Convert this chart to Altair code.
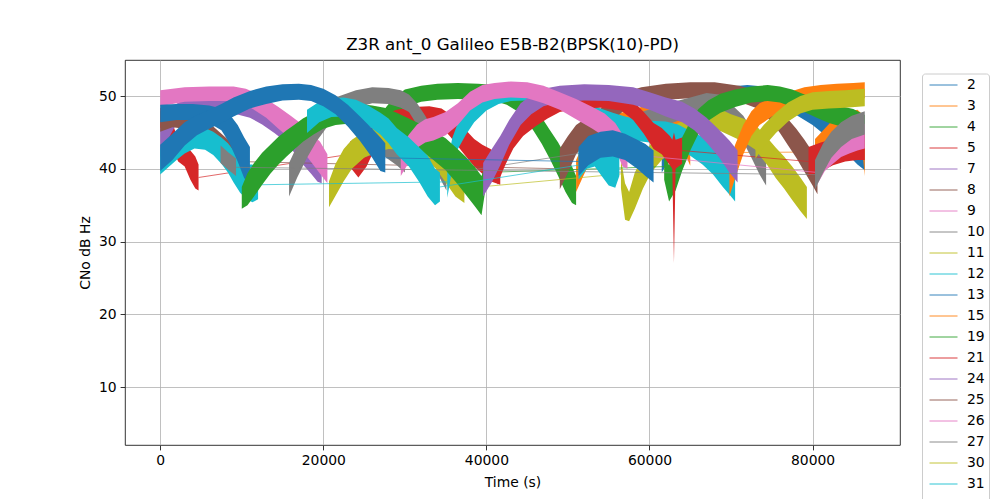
import altair as alt
import pandas as pd

SATS = ["2", "3", "4", "5", "7", "8", "9", "10", "11", "12", "13", "15", "19",
        "21", "24", "25", "26", "27", "30", "31", "33", "34", "36"]
TAB10 = ["#1f77b4", "#ff7f0e", "#2ca02c", "#d62728", "#9467bd",
         "#8c564b", "#e377c2", "#7f7f7f", "#bcbd22", "#17becf"]
X_TICKS = [0, 20000, 40000, 60000, 80000]
Y_TICKS = [10, 20, 30, 40, 50]
TITLE = "Z3R ant_0 Galileo E5B-B2(BPSK(10)-PD)"

# each pass: (time s, centre CNo dB-Hz, half width of the noise band dB)
S2_A = [(61500, 41.5, 2.0), (63000, 44.0, 1.8), (64500, 46.5, 1.5), (66000, 48.3, 1.3), (68000, 49.6, 1.2),
        (70000, 50.2, 1.1), (72000, 50.4, 1.1), (74000, 50.2, 1.1), (76000, 49.6, 1.2), (78000, 48.7, 1.3),
        (80000, 47.5, 1.5), (82000, 46.0, 1.8), (84000, 44.3, 2.0), (85500, 42.8, 2.2), (86400, 42.0, 2.2)]
S3_A = [(51000, 39.0, 2.2), (51800, 41.0, 2.2), (52700, 43.0, 2.0), (53700, 44.8, 1.7), (55000, 45.8, 1.5),
        (56500, 46.3, 1.4), (58000, 46.7, 1.4), (59500, 47.3, 1.4), (60800, 47.8, 1.4), (62000, 47.5, 1.4),
        (63000, 46.5, 1.5), (63800, 45.0, 1.7), (64600, 43.3, 1.9), (65000, 42.2, 1.8)]
S3_B = [(80300, 42.3, 1.8), (81300, 43.5, 1.8), (82300, 44.8, 1.7), (83300, 45.7, 1.6), (84500, 46.3, 1.6),
        (85500, 46.6, 1.5), (86100, 45.0, 2.5), (86400, 41.0, 2.0)]
S4_A = [(27000, 46.0, 1.5), (28500, 48.3, 1.3), (30000, 49.7, 1.2), (32000, 50.3, 1.1), (34000, 50.6, 1.1),
        (36500, 50.7, 1.1), (39000, 50.6, 1.1), (41000, 50.4, 1.1), (42500, 50.0, 1.2), (43800, 49.2, 1.3),
        (44800, 48.2, 1.4), (45800, 46.8, 1.6), (46800, 45.2, 1.8), (47800, 43.3, 2.0), (48800, 41.3, 2.3),
        (49700, 39.3, 2.5), (50500, 37.8, 2.5), (51000, 37.0, 2.0)]
S5_A = [(0, 47.0, 1.4), (700, 46.5, 1.5), (1500, 44.5, 1.8), (2200, 42.5, 1.5), (3000, 41.8, 1.5),
        (3700, 40.5, 2.0), (4300, 39.5, 2.2), (4700, 38.8, 1.8)]
S5_B = [(23300, 42.0, 1.8), (24300, 41.0, 2.2), (25300, 42.5, 2.2), (26300, 44.5, 1.8), (27500, 46.0, 1.5),
        (29000, 46.8, 1.3), (31000, 47.2, 1.3), (33000, 47.3, 1.3), (34500, 47.0, 1.3), (35500, 46.0, 1.5),
        (36500, 44.8, 1.7), (37500, 43.5, 1.8), (38500, 42.2, 1.9), (39500, 41.3, 2.0), (40500, 40.5, 2.2),
        (41700, 39.8, 2.0)]
S7_A = [(0, 43.5, 2.0), (800, 45.5, 1.8), (1800, 47.3, 1.5), (3000, 48.3, 1.3), (5000, 48.8, 1.2),
        (7000, 49.0, 1.2), (9000, 48.8, 1.2), (11000, 48.3, 1.3), (12500, 47.5, 1.4), (14000, 46.5, 1.6),
        (15500, 45.3, 1.7), (16500, 44.0, 1.9), (17500, 42.7, 2.1), (18500, 41.5, 2.2), (19300, 40.5, 2.3),
        (19800, 40.0, 2.0)]
S8_A = [(0, 46.5, 1.4), (1500, 47.0, 1.3), (3000, 46.8, 1.3), (4500, 46.3, 1.4), (5500, 45.3, 1.6),
        (6500, 44.0, 1.8), (7500, 42.8, 2.0), (8500, 41.8, 2.0), (9300, 41.0, 1.8)]
S8_B = [(49000, 40.0, 2.8), (50000, 42.0, 2.5), (51000, 44.0, 2.0), (52500, 45.5, 1.7), (54000, 46.8, 1.5),
        (55500, 48.0, 1.3), (57000, 49.3, 1.2), (59000, 50.1, 1.1), (62000, 50.6, 1.1), (65000, 50.8, 1.1),
        (68000, 50.8, 1.1), (71000, 50.3, 1.1), (73000, 49.6, 1.2), (74000, 48.8, 1.3), (75000, 47.8, 1.4),
        (76000, 46.5, 1.6), (77000, 45.0, 1.8), (78000, 43.5, 2.0), (79000, 41.8, 2.2), (80000, 40.0, 2.3),
        (80600, 38.5, 2.0)]
S9_A = [(0, 49.7, 1.1), (3000, 50.2, 1.0), (6000, 50.3, 1.0), (9000, 50.3, 1.0), (10500, 49.9, 1.1),
        (11500, 49.3, 1.2), (13000, 48.3, 1.3), (14500, 47.0, 1.5), (16000, 45.7, 1.6), (17500, 44.2, 1.8),
        (18600, 42.8, 2.0), (19600, 41.5, 2.2), (20500, 40.0, 2.0)]
S10_A = [(15800, 38.5, 2.3), (16800, 41.0, 2.2), (18000, 43.5, 2.0), (19200, 45.5, 1.7), (20500, 47.3, 1.5),
         (22000, 48.7, 1.3), (24000, 49.6, 1.2), (26000, 50.1, 1.1), (28000, 50.0, 1.1), (29500, 49.6, 1.2),
         (30500, 49.0, 1.2), (31500, 47.5, 1.5), (32500, 45.5, 1.8), (33500, 43.3, 2.0), (34300, 41.0, 2.3),
         (35100, 39.3, 2.3)]
S10_B = [(23000, 41.5, 1.8), (24500, 43.0, 1.6), (26000, 43.5, 1.6), (27500, 43.3, 1.6), (29000, 42.3, 1.8),
         (30000, 41.3, 1.8)]
S10_C = [(56500, 43.0, 2.0), (57500, 45.0, 1.8), (59000, 46.3, 1.5), (61000, 47.0, 1.5), (63000, 47.8, 1.4),
         (65000, 48.5, 1.3), (67000, 49.2, 1.2), (68500, 49.0, 1.2), (70000, 47.5, 1.4), (71500, 45.5, 1.8),
         (72500, 43.5, 2.0), (73500, 41.5, 2.3), (74300, 40.0, 2.3)]
S11_A = [(20700, 36.5, 1.8), (21500, 38.5, 2.2), (22500, 40.5, 2.2), (23500, 42.0, 2.0), (25000, 43.3, 1.8),
         (26500, 44.0, 1.7), (28000, 44.3, 1.6), (29500, 44.2, 1.6), (31000, 43.8, 1.7), (32500, 43.2, 1.8),
         (33800, 42.0, 2.0), (35000, 40.3, 2.2), (36200, 38.5, 2.3), (37300, 37.3, 2.0)]
S11_B = [(56500, 39.3, 2.0), (57000, 35.5, 2.5), (57500, 34.8, 2.0), (58200, 37.0, 2.5), (59200, 39.5, 2.2),
         (60200, 41.5, 2.0), (61500, 43.0, 1.8), (63000, 44.3, 1.7), (64500, 45.2, 1.6), (66000, 46.3, 1.5),
         (67300, 46.9, 1.5), (68500, 46.8, 1.5), (70000, 46.0, 1.5), (71500, 45.3, 1.6), (73000, 44.3, 1.7),
         (74500, 42.3, 1.9), (75500, 40.8, 2.1), (76500, 39.5, 2.2), (77500, 38.0, 2.3), (78500, 36.5, 2.3),
         (79300, 35.3, 2.2)]
S12_A = [(0, 41.0, 1.8), (1000, 42.0, 1.8), (2000, 43.0, 1.8), (3000, 43.8, 1.7), (4200, 44.3, 1.5),
         (5500, 44.1, 1.5), (6500, 43.5, 1.6), (7500, 42.5, 1.8), (8300, 41.5, 2.0), (9000, 40.3, 2.2),
         (9800, 39.0, 2.3), (10600, 38.2, 2.4), (11300, 38.0, 2.6), (12000, 37.8, 2.0)]
S12_B = [(35200, 38.2, 2.2), (35800, 42.0, 2.2), (36500, 44.5, 1.8), (37500, 46.3, 1.6), (38500, 47.8, 1.4),
         (40000, 49.2, 1.2), (41500, 50.0, 1.1), (43000, 50.4, 1.1), (45000, 50.5, 1.1), (46500, 50.3, 1.1),
         (48000, 49.8, 1.2), (49500, 49.2, 1.2), (51000, 48.5, 1.3), (52500, 47.6, 1.4), (54000, 46.8, 1.5),
         (55500, 46.2, 1.5), (57000, 45.7, 1.5), (58500, 45.3, 1.5), (60000, 45.1, 1.5), (62000, 45.0, 1.5),
         (63500, 44.5, 1.6), (65000, 43.5, 1.7), (66500, 42.5, 1.9), (67800, 41.3, 2.1), (69000, 39.8, 2.3),
         (70000, 38.5, 2.3), (70500, 37.5, 2.0)]
S13_A = [(0, 47.6, 1.2), (2000, 47.8, 1.1), (4000, 47.8, 1.1), (6000, 47.5, 1.2), (7500, 46.8, 1.5),
         (8500, 45.5, 2.0), (9500, 43.5, 2.5), (10300, 41.5, 2.8), (11000, 40.5, 2.5)]
S15_A = [(69800, 38.5, 2.3), (70500, 41.0, 2.3), (71500, 44.0, 2.0), (72500, 46.2, 1.7), (73500, 47.5, 1.5),
         (75000, 48.5, 1.3), (77000, 49.3, 1.2), (79000, 50.0, 1.2), (81000, 50.4, 1.1), (83000, 50.6, 1.1),
         (85000, 50.7, 1.1), (86400, 50.8, 1.1)]
S19_A = [(10000, 36.0, 1.5), (10700, 37.2, 2.2), (11500, 38.5, 2.3), (12500, 40.0, 2.2), (13500, 41.3, 2.0),
         (14500, 42.5, 1.9), (15500, 43.5, 1.8), (16500, 44.4, 1.7), (17500, 45.3, 1.6), (18800, 46.2, 1.5),
         (20000, 46.9, 1.4), (21500, 47.3, 1.3), (23000, 47.5, 1.3), (24500, 47.6, 1.3), (26000, 47.4, 1.3),
         (27500, 47.0, 1.4), (29000, 46.2, 1.5), (30500, 45.3, 1.6), (32000, 44.3, 1.8), (33500, 43.2, 2.0),
         (35000, 42.0, 2.2), (36300, 40.5, 2.4), (37500, 39.0, 2.6), (38600, 37.5, 2.7), (39400, 36.3, 2.7),
         (40000, 39.5, 1.5)]
S19_B = [(61800, 40.3, 1.8), (62400, 38.0, 2.5), (63200, 39.5, 2.5), (64000, 42.0, 2.3), (65000, 44.5, 2.0),
         (66000, 46.5, 1.7), (67200, 48.0, 1.4), (68700, 49.0, 1.3), (70500, 49.7, 1.2), (72500, 50.2, 1.1),
         (74500, 50.4, 1.1), (76000, 50.2, 1.1), (77500, 49.7, 1.2), (79000, 49.0, 1.2), (80500, 48.3, 1.3),
         (82000, 47.7, 1.4), (83500, 47.2, 1.4), (85000, 46.7, 1.5), (86400, 45.8, 1.6)]
S21_A = [(41300, 40.0, 2.2), (42300, 42.5, 2.0), (43300, 44.5, 1.7), (44500, 46.0, 1.5), (46000, 47.2, 1.4),
         (47500, 48.2, 1.3), (49000, 49.0, 1.2), (51000, 49.5, 1.2), (54000, 49.6, 1.2), (56500, 49.2, 1.2),
         (58000, 48.0, 1.3), (59300, 46.3, 1.5), (60500, 44.5, 1.8), (61500, 43.8, 1.8), (62500, 42.5, 2.0),
         (62800, 42.0, 2.0), (63000, 36.0, 9.0), (63200, 42.0, 2.0), (64000, 42.5, 1.8)]
S21_B = [(79500, 41.0, 2.0), (81000, 41.6, 2.0), (82500, 42.3, 1.8), (84000, 42.8, 1.8), (85500, 43.0, 1.8),
         (86400, 43.0, 1.8)]
S24_A = [(39600, 38.5, 2.3), (40700, 40.5, 2.3), (41700, 42.5, 2.0), (42800, 45.0, 1.7), (44200, 47.5, 1.5),
         (45500, 48.8, 1.3), (47000, 49.8, 1.2), (49000, 50.3, 1.1), (52000, 50.5, 1.1), (55000, 50.4, 1.1),
         (58000, 50.0, 1.2), (60000, 49.3, 1.2), (62000, 48.5, 1.3), (64000, 47.8, 1.4), (65500, 46.8, 1.5),
         (67000, 45.3, 1.7), (68500, 43.5, 1.9), (69800, 41.7, 2.2), (70800, 40.3, 2.2)]
S26_A = [(29500, 41.0, 2.0), (30500, 42.8, 1.9), (31500, 44.5, 1.6), (32500, 45.2, 1.6), (33500, 45.5, 1.6),
         (35000, 46.2, 1.6), (36500, 47.5, 1.5), (38000, 49.3, 1.3), (39500, 50.3, 1.2), (41000, 50.7, 1.1),
         (43000, 50.9, 1.1), (45000, 50.8, 1.1), (47000, 50.2, 1.2), (49000, 49.3, 1.2), (51000, 48.2, 1.4),
         (53000, 47.0, 1.5), (54500, 46.0, 1.6), (55800, 44.5, 1.8), (56700, 42.5, 2.2), (57300, 42.0, 2.0)]
S26_B = [(80500, 39.5, 1.8), (81500, 41.5, 1.8), (82500, 42.5, 1.8), (83500, 43.3, 1.7), (84500, 43.8, 1.7),
         (85500, 44.2, 1.7), (86400, 44.5, 1.7)]
S27_A = [(7400, 42.0, 1.2), (8400, 41.0, 1.2), (9300, 40.2, 1.2)]
S27_B = [(80300, 39.2, 2.0), (81300, 41.5, 2.0), (82300, 43.3, 1.8), (83500, 44.7, 1.7), (84800, 45.7, 1.6),
         (86400, 46.3, 1.6)]
S30_A = [(73000, 43.0, 1.6), (74000, 44.5, 1.5), (75500, 46.3, 1.4), (77000, 47.8, 1.3), (78500, 48.8, 1.2),
         (80000, 49.3, 1.2), (82000, 49.5, 1.2), (84000, 49.6, 1.2), (86400, 49.8, 1.2)]
S31_A = [(18000, 46.5, 1.6), (19500, 47.8, 1.4), (21000, 48.4, 1.3), (22500, 48.5, 1.3), (24000, 48.2, 1.3),
         (25500, 47.3, 1.4), (27000, 46.2, 1.5), (28000, 45.2, 1.7), (29000, 43.8, 1.8), (30500, 42.3, 2.0),
         (31800, 40.5, 2.4), (32800, 39.0, 2.8), (33700, 37.5, 2.5), (34300, 37.5, 2.0)]
S31_B = [(51300, 40.5, 2.0), (52300, 42.0, 2.0), (53300, 42.5, 2.2), (54200, 41.5, 2.6), (55000, 40.5, 2.8),
         (55800, 40.0, 2.6), (56300, 41.0, 2.0)]
S33_A = [(0, 41.5, 1.8), (1500, 43.0, 1.8), (3000, 44.8, 1.6), (4500, 46.0, 1.4), (6000, 46.8, 1.3),
         (7500, 47.6, 1.3), (9000, 48.5, 1.3), (11000, 49.5, 1.2), (13000, 50.1, 1.2), (15000, 50.5, 1.1),
         (17000, 50.6, 1.1), (18500, 50.4, 1.1), (20000, 49.8, 1.2), (21500, 48.8, 1.3), (23000, 47.3, 1.5),
         (24500, 45.5, 1.7), (26000, 43.5, 2.0), (27000, 42.0, 2.3), (27600, 41.5, 2.0)]
S33_B = [(51300, 41.0, 2.0), (52500, 42.5, 2.0), (54000, 43.3, 1.8), (55500, 43.5, 1.8), (57000, 43.0, 1.8),
         (58500, 42.0, 2.0), (59500, 41.2, 2.2), (60500, 40.3, 2.2)]

PASSES = [
    ("2", "S2_A", S2_A),
    ("3", "S3_A", S3_A), ("3", "S3_B", S3_B),
    ("4", "S4_A", S4_A),
    ("5", "S5_A", S5_A), ("5", "S5_B", S5_B),
    ("7", "S7_A", S7_A),
    ("8", "S8_A", S8_A), ("8", "S8_B", S8_B),
    ("9", "S9_A", S9_A),
    ("10", "S10_A", S10_A), ("10", "S10_B", S10_B), ("10", "S10_C", S10_C),
    ("11", "S11_A", S11_A), ("11", "S11_B", S11_B),
    ("12", "S12_A", S12_A), ("12", "S12_B", S12_B),
    ("13", "S13_A", S13_A),
    ("15", "S15_A", S15_A),
    ("19", "S19_A", S19_A), ("19", "S19_B", S19_B),
    ("21", "S21_A", S21_A), ("21", "S21_B", S21_B),
    ("24", "S24_A", S24_A),
    ("26", "S26_A", S26_A), ("26", "S26_B", S26_B),
    ("27", "S27_A", S27_A), ("27", "S27_B", S27_B),
    ("30", "S30_A", S30_A),
    ("31", "S31_A", S31_A), ("31", "S31_B", S31_B),
    ("33", "S33_A", S33_A), ("33", "S33_B", S33_B),
]
# gaps that the receiver log joins with a straight thin line
LINKS = [
    ("3", "S3_A", "S3_B"), ("5", "S5_A", "S5_B"), ("8", "S8_A", "S8_B"),
    ("10", "S10_A", "S10_C"), ("11", "S11_A", "S11_B"), ("12", "S12_A", "S12_B"),
    ("19", "S19_A", "S19_B"), ("21", "S21_A", "S21_B"), ("26", "S26_A", "S26_B"),
    ("27", "S27_A", "S27_B"), ("31", "S31_A", "S31_B"), ("33", "S33_A", "S33_B"),
]

COLORS = [TAB10[i % 10] for i in range(len(SATS))]

band_rows = []
for sat, name, pts in PASSES:
    for t, v, w in pts:
        band_rows.append({"sat": sat, "pass_id": name, "t": t, "lo": v - w, "hi": v + w})
bands = pd.DataFrame(band_rows)

lookup = {name: pts for _, name, pts in PASSES}
link_rows = []
for sat, a, b in LINKS:
    t0, v0, _ = lookup[a][-1]
    t1, v1, _ = lookup[b][0]
    link_rows.append({"sat": sat, "link": a + b, "t": t0, "v": v0})
    link_rows.append({"sat": sat, "link": a + b, "t": t1, "v": v1})
links = pd.DataFrame(link_rows)

x_scale = alt.Scale(domain=[-4320, 90720], nice=False, zero=False)
y_scale = alt.Scale(domain=[2.03, 54.95], nice=False, zero=False)
x_axis = alt.Axis(values=X_TICKS, format="d", title="Time (s)", titleY=37, titleBaseline="middle")
y_axis = alt.Axis(values=Y_TICKS, title="CNo dB Hz", titleX=-40, titleY=192.5, titleBaseline="middle")
col_scale = alt.Scale(domain=SATS, range=COLORS)


def make_legend():
    return alt.Legend(orient="none", legendX=797, legendY=13.5, title=None,
                      symbolType="M-0.571,0H3.429", symbolSize=196, symbolStrokeWidth=0.9,
                      labelFont="DejaVu Sans", labelFontSize=13.9, labelColor="black",
                      labelOffset=26, rowPadding=6, padding=4,
                      strokeColor="#cccccc", fillColor="white", cornerRadius=3)


layers = []
for sat in SATS:
    dl = links[links["sat"] == sat]
    if len(dl):
        layers.append(alt.Chart(dl).mark_line(strokeWidth=0.7).encode(
            x=alt.X("t:Q", scale=x_scale, axis=x_axis),
            y=alt.Y("v:Q", scale=y_scale, axis=y_axis),
            stroke=alt.Stroke("sat:N", scale=col_scale, legend=make_legend()),
            detail="link:N"))
    db = bands[bands["sat"] == sat]
    if len(db):
        layers.append(alt.Chart(db).mark_area(interpolate="linear").encode(
            x=alt.X("t:Q", scale=x_scale, axis=x_axis),
            y=alt.Y("lo:Q", scale=y_scale, axis=y_axis, stack=None),
            y2="hi:Q",
            fill=alt.Fill("sat:N", scale=col_scale, legend=make_legend()),
            detail="pass_id:N"))

chart = alt.layer(*layers).properties(
    width=775, height=385,
    title=alt.TitleParams(text=TITLE, fontSize=16.7, font="DejaVu Sans", fontWeight="normal",
                          color="black", anchor="middle", offset=-7, baseline="alphabetic"),
    autosize=alt.AutoSizeParams(type="none"),
    padding={"left": 117, "top": 52, "right": 92, "bottom": 54},
).configure_view(stroke="black", strokeWidth=0.8).configure_axis(
    labelFont="DejaVu Sans", labelFontSize=13.9, labelColor="black",
    titleFont="DejaVu Sans", titleFontSize=13.9, titleFontWeight="normal", titleColor="black",
    tickColor="black", tickWidth=0.8, tickSize=4.9, labelPadding=4, domain=False,
    grid=True, gridColor="#b0b0b0", gridWidth=0.8)

chart.save("out.html", embed_options={"renderer": "svg", "actions": False})
